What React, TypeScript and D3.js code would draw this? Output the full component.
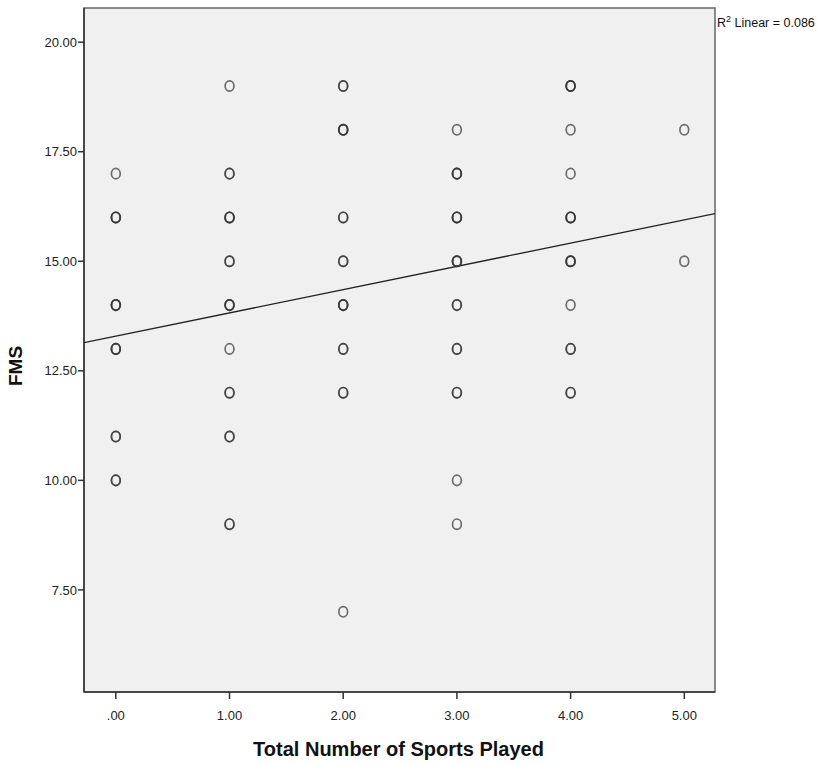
import React from 'react';
import * as d3 from 'd3';

// sports played (x), FMS score (y), how many cases share that spot
const sportsCount = [0, 0, 0, 0, 0, 0, 1, 1, 1, 1, 1, 1, 1, 1, 1, 2, 2, 2, 2, 2, 2, 2, 2, 3, 3, 3, 3, 3, 3, 3, 3, 3, 4, 4, 4, 4, 4, 4, 4, 4, 5, 5];
const fmsScore = [17, 16, 14, 13, 11, 10, 19, 17, 16, 15, 14, 13, 12, 11, 9, 19, 18, 16, 15, 14, 13, 12, 7, 18, 17, 16, 15, 14, 13, 12, 10, 9, 19, 18, 17, 16, 15, 14, 13, 12, 18, 15];
const overlap = [1, 3, 3, 3, 2, 2, 1, 2, 3, 2, 3, 1, 2, 2, 2, 2, 3, 2, 2, 3, 2, 2, 1, 1, 3, 3, 3, 2, 2, 2, 1, 1, 3, 1, 1, 3, 3, 1, 2, 2, 1, 1];

const xTicks = [0, 1, 2, 3, 4, 5];
const yTicks = [7.5, 10, 12.5, 15, 17.5, 20];

// fit line
const fitIntercept = 13.29;
const fitSlope = 0.531;
const rSquared = 0.086;

const W = 837, H = 765;
const left = 84, right = 715, top = 8, bottom = 692;

export default function App() {
  const x = d3.scaleLinear().domain([-0.28, 5.27]).range([left, right]);
  const y = d3.scaleLinear().domain([5.17, 20.78]).range([bottom, top]);
  const fmtX = (v: number) => (v === 0 ? '.00' : d3.format('.2f')(v));
  const fmtY = d3.format('.2f');

  const pts: { sx: number; sy: number }[] = [];
  sportsCount.forEach((s, i) => {
    for (let k = 0; k < overlap[i]; k++) pts.push({ sx: s, sy: fmsScore[i] });
  });

  const [x0, x1] = x.domain();
  const line = d3.line<number>().x(d => x(d)).y(d => y(fitIntercept + fitSlope * d));

  return (
    <svg width={W} height={H} style={{ position: 'absolute', left: 0, top: 0, background: '#fff' }}
      fontFamily="'Liberation Sans', Arial, sans-serif">
      <rect x={left} y={top} width={right - left} height={bottom - top} fill="#f0f0f0" stroke="#666" strokeWidth={1.5} />
      <line x1={left} x2={left} y1={top} y2={bottom} stroke="#333" strokeWidth={1.5} />
      <line x1={left} x2={right} y1={bottom} y2={bottom} stroke="#333" strokeWidth={1.5} />
      {yTicks.map(t => (
        <g key={t}>
          <line x1={left - 6} x2={left} y1={y(t)} y2={y(t)} stroke="#333" strokeWidth={1.5} />
          <text x={left - 7} y={y(t)} dy="0.36em" textAnchor="end" fontSize={13} fill="#222">{fmtY(t)}</text>
        </g>
      ))}
      {xTicks.map(t => (
        <g key={t}>
          <line x1={x(t)} x2={x(t)} y1={bottom} y2={bottom + 7} stroke="#333" strokeWidth={1.5} />
          <text x={x(t)} y={bottom + 28} textAnchor="middle" fontSize={13} fill="#222">{fmtX(t)}</text>
        </g>
      ))}
      <clipPath id="plot"><rect x={left} y={top} width={right - left} height={bottom - top} /></clipPath>
      <path d={line([x0, x1]) || ''} fill="none" stroke="#222" strokeWidth={1.3} clipPath="url(#plot)" />
      {pts.map((p, i) => (
        <ellipse key={i} cx={x(p.sx)} cy={y(p.sy)} rx={4.4} ry={5.2} fill="none" stroke="#333" strokeOpacity={0.7} strokeWidth={1.7} />
      ))}
      <text x={right + 2} y={27} fontSize={12.5} fill="#111">
        R<tspan dy={-5} fontSize={9}>2</tspan><tspan dy={5}> Linear = {rSquared.toFixed(3)}</tspan>
      </text>
      <text x={(left + right) / 2 - 1} y={756} textAnchor="middle" fontSize={20} fontWeight="bold" fill="#111">Total Number of Sports Played</text>
      <text transform={`translate(22, ${(top + bottom) / 2 + 16}) rotate(-90)`} textAnchor="middle" fontSize={19} fontWeight="bold" fill="#111">FMS</text>
    </svg>
  );
}
